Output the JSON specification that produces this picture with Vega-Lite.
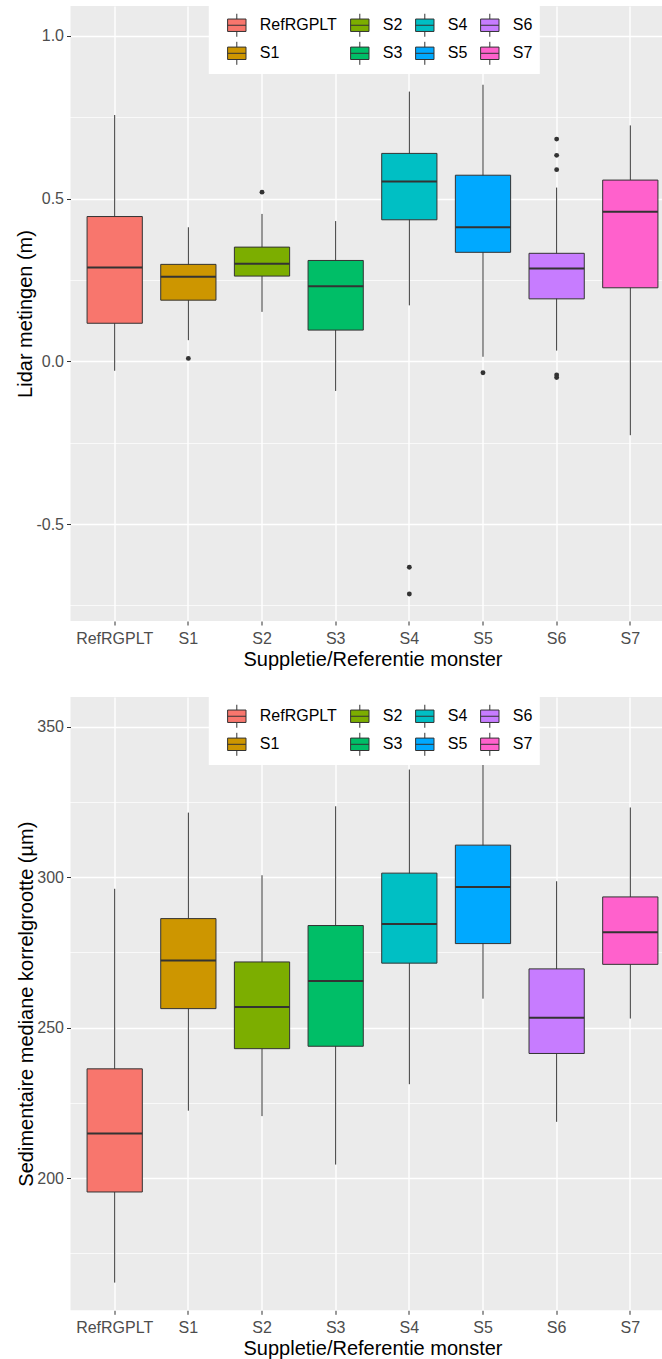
{
  "$schema": "https://vega.github.io/schema/vega-lite/v6.json",
  "padding": {"left": 15.5, "top": 6, "right": 0, "bottom": 0},
  "background": "white",
  "spacing": 27,
  "config": {
    "font": "Liberation Sans",
    "view": {"fill": "#EBEBEB", "stroke": null},
    "axis": {
      "domain": false,
      "tickColor": "#333333",
      "tickSize": 4,
      "tickWidth": 1,
      "labelFont": "Liberation Sans",
      "labelFontSize": 16,
      "labelColor": "#4D4D4D",
      "titleFont": "Liberation Sans",
      "titleFontSize": 20,
      "titleFontWeight": "normal",
      "titleColor": "#000000",
      "gridColor": "#FFFFFF",
      "gridWidth": 1.4,
      "gridOpacity": 1
    },
    "legend": {
      "labelFont": "Liberation Sans",
      "labelFontSize": 16,
      "labelColor": "#000000"
    }
  },
  "datasets": {
    "lidar": [
      {"groep": "RefRGPLT", "lo": -0.029, "q1": 0.117, "med": 0.288, "q3": 0.445, "hi": 0.757},
      {"groep": "S1", "lo": 0.065, "q1": 0.188, "med": 0.26, "q3": 0.298, "hi": 0.412},
      {"groep": "S2", "lo": 0.152, "q1": 0.262, "med": 0.30, "q3": 0.351, "hi": 0.453},
      {"groep": "S3", "lo": -0.091, "q1": 0.096, "med": 0.231, "q3": 0.31, "hi": 0.431},
      {"groep": "S4", "lo": 0.172, "q1": 0.435, "med": 0.553, "q3": 0.639, "hi": 0.829},
      {"groep": "S5", "lo": 0.014, "q1": 0.335, "med": 0.412, "q3": 0.572, "hi": 0.85},
      {"groep": "S6", "lo": 0.033, "q1": 0.192, "med": 0.285, "q3": 0.332, "hi": 0.534},
      {"groep": "S7", "lo": -0.227, "q1": 0.226, "med": 0.46, "q3": 0.557, "hi": 0.725}
    ],
    "lidarOut": [
      {"groep": "S1", "waarde": 0.009},
      {"groep": "S2", "waarde": 0.52},
      {"groep": "S4", "waarde": -0.633},
      {"groep": "S4", "waarde": -0.715},
      {"groep": "S5", "waarde": -0.035},
      {"groep": "S6", "waarde": 0.683},
      {"groep": "S6", "waarde": 0.633},
      {"groep": "S6", "waarde": 0.589},
      {"groep": "S6", "waarde": -0.042},
      {"groep": "S6", "waarde": -0.05}
    ],
    "sed": [
      {"groep": "RefRGPLT", "lo": 165.3, "q1": 195.4, "med": 214.8, "q3": 236.3, "hi": 296.1},
      {"groep": "S1", "lo": 222.4, "q1": 256.3, "med": 272.3, "q3": 286.2, "hi": 321.4},
      {"groep": "S2", "lo": 220.6, "q1": 243.0, "med": 256.8, "q3": 271.8, "hi": 300.6},
      {"groep": "S3", "lo": 204.5, "q1": 243.8, "med": 265.5, "q3": 283.9, "hi": 323.5},
      {"groep": "S4", "lo": 231.2, "q1": 271.4, "med": 284.4, "q3": 301.3, "hi": 335.7},
      {"groep": "S5", "lo": 259.6, "q1": 277.9, "med": 296.7, "q3": 310.6, "hi": 339.0},
      {"groep": "S6", "lo": 218.7, "q1": 241.4, "med": 253.3, "q3": 269.5, "hi": 298.6},
      {"groep": "S7", "lo": 253.0, "q1": 271.0, "med": 281.7, "q3": 293.4, "hi": 323.1}
    ]
  },
  "resolve": {"scale": {"fill": "independent"}, "legend": {"fill": "independent"}},
  "vconcat": [
    {
      "width": 592,
      "height": 615,
      "resolve": {"axis": {"y": "independent"}},
      "layer": [
        {
          "data": {"name": "lidar"},
          "mark": {"type": "rule", "color": "#333333", "strokeWidth": 1},
          "encoding": {
            "x": {"field": "groep", "type": "nominal", "title": "Suppletie/Referentie monster",
              "scale": {"domain": ["RefRGPLT", "S1", "S2", "S3", "S4", "S5", "S6", "S7"], "range": [0, 604], "paddingInner": 0, "paddingOuter": 0.1},
              "axis": {"grid": true, "labelAngle": 0, "labelPadding": 5, "titlePadding": 3.5}},
            "y": {"field": "lo", "type": "quantitative", "title": "Lidar metingen (m)",
              "scale": {"domain": [-0.798, 1.092], "nice": false, "zero": false},
              "axis": {"values": [-0.5, 0, 0.5, 1.0], "labelExpr": "datum.value < 0 ? '-' + format(-datum.value, '.1f') : format(datum.value, '.1f')", "grid": true, "labelPadding": 3, "titlePadding": 0}},
            "y2": {"field": "hi"}
          }
        },
        {
          "data": {"name": "lidar"},
          "mark": {"type": "bar", "stroke": "#333333", "strokeWidth": 1, "width": {"band": 0.75}},
          "encoding": {
            "x": {"field": "groep", "type": "nominal", "title": "Suppletie/Referentie monster"},
            "y": {"field": "q1", "type": "quantitative", "axis": null},
            "y2": {"field": "q3"},
            "fill": {"field": "groep", "type": "nominal",
              "scale": {"domain": ["RefRGPLT", "S1", "S2", "S3", "S4", "S5", "S6", "S7"], "range": ["#F8766D", "#CD9600", "#7CAE00", "#00BE67", "#00BFC4", "#00A9FF", "#C77CFF", "#FF61CC"]},
              "legend": {"orient": "none", "legendX": 138.3, "legendY": 0, "columns": 4, "title": " ", "titleOrient": "left", "titleFontSize": 1, "titlePadding": 9, "padding": 7, "fillColor": "#FFFFFF", "symbolType": "M-0.8,-0.54H0.8V0.54H-0.8Z M0,-1V-0.54 M0,0.54V1 M-0.8,0H0.8", "symbolSize": 529, "symbolStrokeColor": "#333333", "symbolStrokeWidth": 1, "symbolOpacity": 1, "labelOffset": 11, "columnPadding": 10, "rowPadding": 0.3, "labelFontSize": 16}}
          }
        },
        {
          "data": {"name": "lidar"},
          "mark": {"type": "tick", "color": "#333333", "thickness": 2, "size": 55.2, "opacity": 1},
          "encoding": {
            "x": {"field": "groep", "type": "nominal", "title": "Suppletie/Referentie monster"},
            "y": {"field": "med", "type": "quantitative", "axis": null}
          }
        },
        {
          "data": {"name": "lidarOut"},
          "mark": {"type": "point", "filled": true, "color": "#333333", "size": 24, "opacity": 1},
          "encoding": {
            "x": {"field": "groep", "type": "nominal", "title": "Suppletie/Referentie monster"},
            "y": {"field": "waarde", "type": "quantitative", "axis": {"orient": "right", "values": [-0.75, -0.25, 0.25, 0.75], "labels": false, "ticks": false, "domain": false, "title": null, "grid": true, "gridWidth": 0.7}}
          }
        }
      ]
    },
    {
      "width": 592,
      "height": 613.3,
      "resolve": {"axis": {"y": "independent"}},
      "layer": [
        {
          "data": {"name": "sed"},
          "mark": {"type": "rule", "color": "#333333", "strokeWidth": 1},
          "encoding": {
            "x": {"field": "groep", "type": "nominal", "title": "Suppletie/Referentie monster",
              "scale": {"domain": ["RefRGPLT", "S1", "S2", "S3", "S4", "S5", "S6", "S7"], "range": [0, 604], "paddingInner": 0, "paddingOuter": 0.1},
              "axis": {"grid": true, "labelAngle": 0, "labelPadding": 5, "titlePadding": 3.5}},
            "y": {"field": "lo", "type": "quantitative", "title": "Sedimentaire mediane korrelgrootte (µm)",
              "scale": {"domain": [156.1, 359.8], "nice": false, "zero": false},
              "axis": {"values": [200, 250, 300, 350], "format": "d", "grid": true, "labelPadding": 3, "titlePadding": 0}},
            "y2": {"field": "hi"}
          }
        },
        {
          "data": {"name": "sed"},
          "mark": {"type": "bar", "stroke": "#333333", "strokeWidth": 1, "width": {"band": 0.75}},
          "encoding": {
            "x": {"field": "groep", "type": "nominal", "title": "Suppletie/Referentie monster"},
            "y": {"field": "q1", "type": "quantitative", "axis": null},
            "y2": {"field": "q3"},
            "fill": {"field": "groep", "type": "nominal",
              "scale": {"domain": ["RefRGPLT", "S1", "S2", "S3", "S4", "S5", "S6", "S7"], "range": ["#F8766D", "#CD9600", "#7CAE00", "#00BE67", "#00BFC4", "#00A9FF", "#C77CFF", "#FF61CC"]},
              "legend": {"orient": "none", "legendX": 138.3, "legendY": 0, "columns": 4, "title": " ", "titleOrient": "left", "titleFontSize": 1, "titlePadding": 9, "padding": 7, "fillColor": "#FFFFFF", "symbolType": "M-0.8,-0.54H0.8V0.54H-0.8Z M0,-1V-0.54 M0,0.54V1 M-0.8,0H0.8", "symbolSize": 529, "symbolStrokeColor": "#333333", "symbolStrokeWidth": 1, "symbolOpacity": 1, "labelOffset": 11, "columnPadding": 10, "rowPadding": 0.3, "labelFontSize": 16}}
          }
        },
        {
          "data": {"name": "sed"},
          "mark": {"type": "tick", "color": "#333333", "thickness": 2, "size": 55.2, "opacity": 1},
          "encoding": {
            "x": {"field": "groep", "type": "nominal", "title": "Suppletie/Referentie monster"},
            "y": {"field": "med", "type": "quantitative", "axis": null}
          }
        },
        {
          "data": {"name": "sed"},
          "mark": {"type": "point", "opacity": 0},
          "encoding": {
            "x": {"field": "groep", "type": "nominal", "title": "Suppletie/Referentie monster"},
            "y": {"field": "med", "type": "quantitative", "axis": {"orient": "right", "values": [175, 225, 275, 325], "labels": false, "ticks": false, "domain": false, "title": null, "grid": true, "gridWidth": 0.7}}
          }
        }
      ]
    }
  ]
}
